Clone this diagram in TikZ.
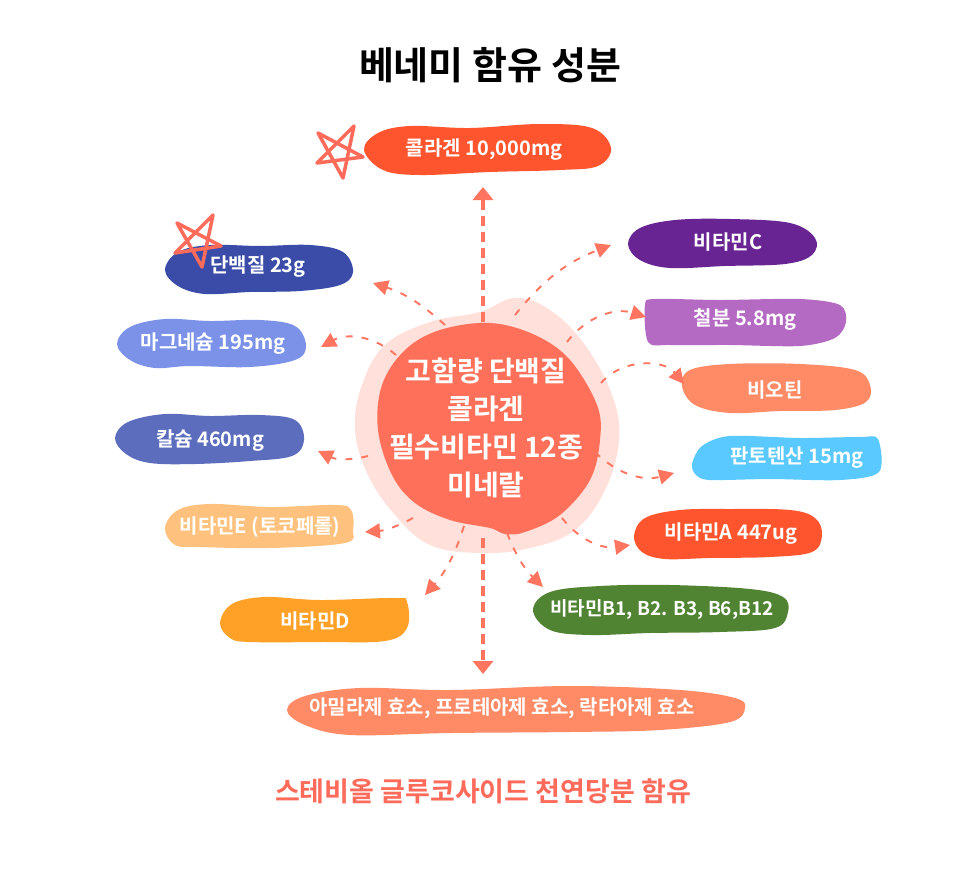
\documentclass[tikz,border=0pt]{standalone}
\usepackage{fontspec}
\setmainfont{Noto Sans CJK KR}[BoldFont={Noto Sans CJK KR Bold}]
\usetikzlibrary{arrows.meta}
\definecolor{coral}{HTML}{FF7560}
\definecolor{pale}{HTML}{FFE0DB}
\definecolor{core}{HTML}{FF705A}
\definecolor{redor}{HTML}{FF552F}
\definecolor{navy}{HTML}{3A4CA8}
\definecolor{peri}{HTML}{7B92E8}
\definecolor{slateb}{HTML}{5C6DBD}
\definecolor{peach}{HTML}{FFC27E}
\definecolor{amber}{HTML}{FFA127}
\definecolor{violet}{HTML}{672492}
\definecolor{orchid}{HTML}{B469C3}
\definecolor{salmon}{HTML}{FF8A66}
\definecolor{sky}{HTML}{59C9FF}
\definecolor{leaf}{HTML}{508433}
\definecolor{bottomt}{HTML}{FF6B5B}
\tikzset{
  blob/.style={draw=none},
  lab/.style={font=\fontsize{20}{22}\selectfont\bfseries,text=white,inner sep=0pt},
  conn/.style={draw=coral,line width=1.9pt,dash pattern=on 7pt off 9pt,-{Triangle[length=15pt,width=15pt,fill=coral,sep=0pt]}},
  mainconn/.style={draw=coral,line width=3.6pt,dash pattern=on 10pt off 6pt,-{Triangle[length=13pt,width=20pt,fill=coral]}},
  starline/.style={draw=bottomt,line width=3.5pt,line join=round,line cap=round}
}
\begin{document}
\begin{tikzpicture}[x=1pt,y=-1pt]
\useasboundingbox (0,0) rectangle (966,870);
\fill[white] (0,0) rectangle (966,870);
\node[font=\fontsize{38}{40}\selectfont\bfseries,text=black,inner sep=0pt] (title) at (490,65) {베네미 함유 성분};
% central blob
\fill[pale,blob] plot[smooth cycle,tension=0.65] coordinates {(355,430)(362,385)(385,345)(430,322)(480,312)(515,298)(550,310)(585,345)(612,395)(619,440)(605,490)(575,530)(530,548)(480,553)(430,545)(395,515)(368,475)};
\fill[core,blob] plot[smooth cycle,tension=0.6] coordinates {(378,430)(382,385)(405,350)(440,330)(490,323)(535,335)(570,360)(597,405)(600,440)(590,480)(560,515)(525,532)(505,534)(490,528)(450,520)(415,503)(392,475)};
\node[font=\fontsize{28}{38}\selectfont\bfseries,text=white,align=center,inner sep=0pt] (center) at (486,428) {고함량 단백질\\콜라겐\\필수비타민 12종\\미네랄};
% blobs
\fill[redor,blob] plot[smooth cycle,tension=0.6] coordinates {(364,150)(378,133)(410,126)(470,128)(540,124)(592,128)(611,148)(598,166)(560,170)(490,172)(420,175)(383,170)};
\fill[navy,blob] plot[smooth cycle,tension=0.6] coordinates {(165,270)(178,252)(210,245)(260,246)(310,245)(343,252)(353,272)(340,285)(300,291)(250,292)(205,294)(178,286)};
\fill[peri,blob] plot[smooth cycle,tension=0.6] coordinates {(117,344)(130,327)(165,319)(210,321)(260,320)(295,326)(306,346)(295,360)(250,367)(190,366)(155,368)(130,360)};
\fill[slateb,blob] plot[smooth cycle,tension=0.6] coordinates {(115,438)(128,422)(165,414)(210,416)(260,415)(295,420)(304,440)(292,456)(250,461)(195,464)(150,463)(126,454)};
\fill[peach,blob] plot[smooth cycle,tension=0.6] coordinates {(165,528)(178,510)(210,504)(270,507)(335,505)(351,510)(353,530)(345,543)(270,548)(200,547)(175,545)};
\fill[amber,blob] plot[smooth cycle,tension=0.6] coordinates {(220,623)(232,604)(265,597)(320,600)(395,598)(407,602)(407,628)(385,641)(320,642)(250,642)(230,638)};
\fill[violet,blob] plot[smooth cycle,tension=0.6] coordinates {(628,244)(640,228)(675,220)(730,219)(790,223)(815,238)(812,255)(785,264)(725,266)(670,268)(640,260)};
\fill[orchid,blob] plot[smooth cycle,tension=0.5] coordinates {(645,305)(655,299)(720,300)(800,299)(840,305)(846,322)(835,338)(800,346)(730,345)(670,345)(648,342)};
\fill[salmon,blob] plot[smooth cycle,tension=0.6] coordinates {(682,386)(690,370)(730,364)(800,364)(855,370)(870,385)(866,402)(835,410)(780,411)(730,413)(695,405)};
\fill[sky,blob] plot[smooth cycle,tension=0.5] coordinates {(692,464)(702,446)(730,436)(800,438)(860,437)(878,439)(879,472)(840,480)(770,479)(710,480)(696,475)};
\fill[redor,blob] plot[smooth cycle,tension=0.6] coordinates {(634,536)(645,518)(680,510)(730,509)(790,510)(815,518)(822,535)(812,552)(770,557)(710,558)(665,559)(642,552)};
\fill[leaf,blob] plot[smooth cycle,tension=0.6] coordinates {(533,610)(550,592)(600,586)(670,585)(750,589)(783,597)(788,612)(775,628)(720,632)(650,633)(590,635)(550,630)};
\fill[salmon,blob] plot[smooth cycle,tension=0.6] coordinates {(287,710)(305,696)(360,688)(450,690)(570,686)(680,690)(735,698)(745,708)(730,722)(660,730)(570,732)(450,733)(350,735)(305,725)};
% stars
\draw[starline] (354,126) -- (317,163) -- (363,157) -- (318,133) -- (343,178) -- cycle;
\draw[starline] (213,215) -- (175,253) -- (221,246) -- (177,223) -- (202,267) -- cycle;
% labels
\node[lab] (collagen) at (484,150) {콜라겐 10,000mg};
\node[lab] (protein) at (258,267) {단백질 23g};
\node[lab] (magnesium) at (213,344) {마그네슘 195mg};
\node[lab] (calcium) at (210,441) {칼슘 460mg};
\node[lab] (vite) at (260,527) {비타민E (토코페롤)};
\node[lab] (vitd) at (315,621) {비타민D};
\node[lab] (vitc) at (728,242) {비타민C};
\node[lab] (iron) at (745,320) {철분 5.8mg};
\node[lab] (biotin) at (775,390) {비오틴};
\node[lab] (panto) at (797,458) {판토텐산 15mg};
\node[lab] (vita) at (731,534) {비타민A 447ug};
\node[lab,font=\fontsize{19}{22}\selectfont\bfseries] (vitb) at (662,610) {비타민B1, B2. B3, B6,B12};
\node[lab] (enzyme) at (502,708) {아밀라제 효소, 프로테아제 효소, 락타아제 효소};
\node[font=\fontsize{27}{29}\selectfont\bfseries,text=bottomt,inner sep=0pt] (sweet) at (483,791) {스테비올 글루코사이드 천연당분 함유};
% connector ends
\coordinate (sUp) at (483,322); \coordinate (eUp) at (483,187);
\coordinate (sDown) at (483,538); \coordinate (eDown) at (483,674);
\coordinate (sC) at (515,315); \coordinate (eC) at (611,245);
\coordinate (sFe) at (567,342); \coordinate (eFe) at (646,317);
\coordinate (sBio) at (601,383); \coordinate (eBio) at (684,384);
\coordinate (sPa) at (595,452); \coordinate (ePa) at (674,473);
\coordinate (sA) at (562,518); \coordinate (eA) at (630,545);
\coordinate (sB) at (507,533); \coordinate (eB) at (543,587);
\coordinate (sD) at (464,526); \coordinate (eD) at (425,595);
\coordinate (sE) at (413,518); \coordinate (eE) at (365,532);
\coordinate (sCa) at (368,456); \coordinate (eCa) at (318,451);
\coordinate (sMg) at (396,355); \coordinate (eMg) at (321,347);
\coordinate (sPr) at (445,325); \coordinate (ePr) at (373,283);
% connectors
\draw[mainconn] (sUp) -- (eUp);
\draw[mainconn] (sDown) -- (eDown);
\draw[conn] (sC) to[bend left=15] (eC);
\draw[conn] (sFe) to[bend left=35] (eFe);
\draw[conn] (sBio) to[bend left=50] (eBio);
\draw[conn] (sPa) to[bend right=30] (ePa);
\draw[conn] (sA) to[bend right=30] (eA);
\draw[conn] (sB) to[bend right=12] (eB);
\draw[conn] (sD) to[bend left=12] (eD);
\draw[conn] (sE) to[bend left=12] (eE);
\draw[conn] (sCa) to[bend left=20] (eCa);
\draw[conn] (sMg) to[bend right=35] (eMg);
\draw[conn] (sPr) to[bend right=12] (ePr);
\end{tikzpicture}
\end{document}
